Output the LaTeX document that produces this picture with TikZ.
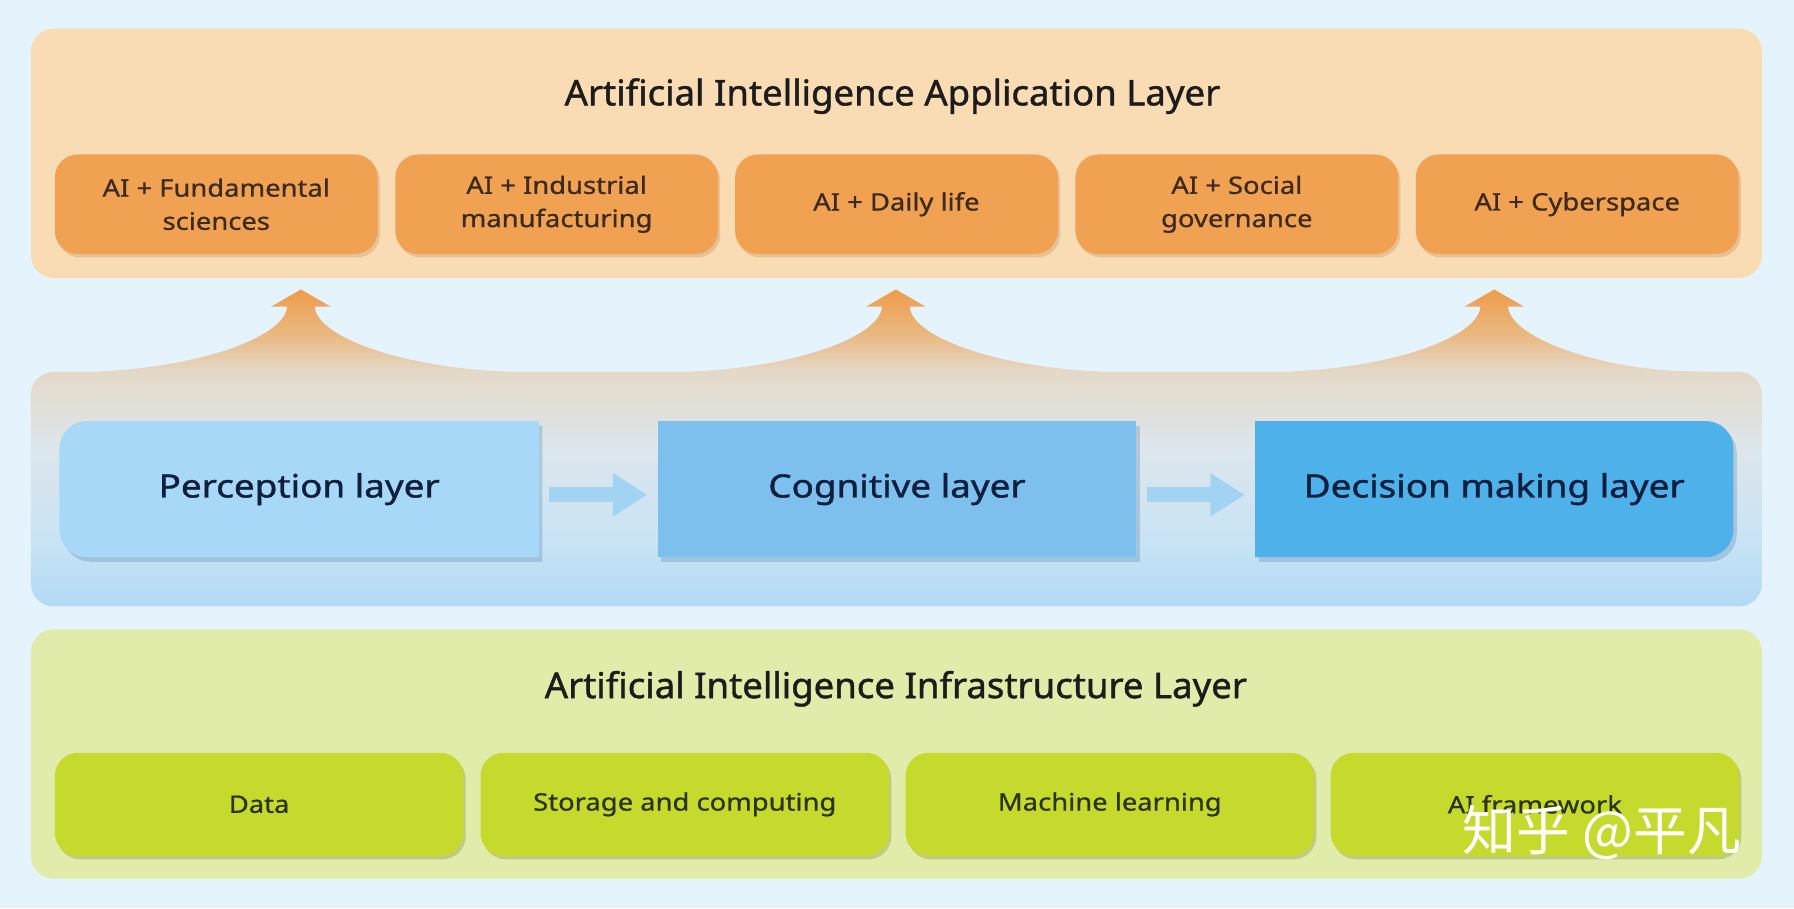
\documentclass[tikz,border=0pt]{standalone}
\usepackage{fontspec}
\setmainfont[FakeStretch=1.14, FakeBold=0.8]{Noto Sans}
\newfontfamily\titlefont[FakeStretch=1.03, FakeBold=1.2]{Noto Sans}
\newfontfamily\bluefont[FakeStretch=1.15, FakeBold=1.2]{Noto Sans}
\newfontfamily\cjkfont{Noto Sans CJK SC}
\usetikzlibrary{shadows,arrows.meta}
\definecolor{bg}{HTML}{E5F3FC}
\definecolor{apppanel}{HTML}{F9DBB4}
\definecolor{oboxc}{HTML}{F0A152}
\definecolor{oshadow}{HTML}{A86420}
\definecolor{otext}{HTML}{3B2A1E}
\definecolor{ttext}{HTML}{1C1C1C}
\definecolor{percc}{HTML}{A7D8F7}
\definecolor{cogc}{HTML}{7DC0EE}
\definecolor{decc}{HTML}{4EB1EA}
\definecolor{bshadow}{HTML}{3A6F9A}
\definecolor{btext}{HTML}{0F1F3D}
\definecolor{flowc}{HTML}{A3D3F3}
\definecolor{infpanel}{HTML}{E1EBAA}
\definecolor{gboxc}{HTML}{C6DA2E}
\definecolor{gshadow}{HTML}{6F7A10}
\definecolor{gtext}{HTML}{2B3312}
\definecolor{pb1}{HTML}{B2DAF5}
\definecolor{pb2}{HTML}{C8E3F5}
\definecolor{pb3}{HTML}{DDE6EC}
\definecolor{pb4}{HTML}{E4D9C8}
\definecolor{pb5}{HTML}{EAB880}
\definecolor{pb6}{HTML}{EE9C4A}
\pgfdeclareverticalshading{midpanel}{100bp}{color(0bp)=(pb1); color(25bp)=(pb1); color(35bp)=(pb2); color(50bp)=(pb3); color(62bp)=(pb4); color(68bp)=(pb5); color(75bp)=(pb6); color(100bp)=(pb6)}
\begin{document}
\begin{tikzpicture}[x=1pt,y=-1pt,
  panelbox/.style={rounded corners=20pt, inner sep=0pt, draw=none},
  title/.style={text=ttext, font=\titlefont\fontsize{31}{36}\selectfont, inner sep=0pt},
  obox/.style={fill=oboxc, rounded corners=20pt, minimum width=282pt, minimum height=87pt, inner sep=0pt, align=center, text=otext, font=\fontsize{21}{29}\selectfont, drop shadow={shadow xshift=2pt, shadow yshift=-3pt, opacity=.22, fill=oshadow}},
  gbox/.style={fill=gboxc, rounded corners=20pt, minimum width=357pt, minimum height=90pt, inner sep=0pt, align=center, text=gtext, font=\fontsize{21}{26}\selectfont, drop shadow={shadow xshift=2pt, shadow yshift=-3pt, opacity=.28, fill=gshadow}},
  blbl/.style={minimum width=418pt, minimum height=119pt, inner sep=0pt, text=btext, font=\bluefont\fontsize{28}{34}\selectfont},
  bshape/.style={drop shadow={shadow xshift=3pt, shadow yshift=-4pt, opacity=.25, fill=bshadow}},
  flow/.style={draw=flowc, line width=13pt, -{Triangle[length=30pt,width=36pt]}, shorten <=9pt, shorten >=9pt}
]
\useasboundingbox (0,0) rectangle (1568,794);
\fill[bg] (0,0) rectangle (1568,794);

% top panel
\node[panelbox, fill=apppanel, minimum width=1513pt, minimum height=218pt] (app) at (783.5,134) {};
\node[title] (apptitle) at (780,84) {Artificial Intelligence Application Layer};
\node[obox] (a1) at (189,178.5) {AI + Fundamental\\sciences};
\node[obox] (a2) at (486.5,178.5) {AI + Industrial\\manufacturing};
\node[obox] (a3) at (783.5,178.5) {AI + Daily life};
\node[obox] (a4) at (1081,178.5) {AI + Social\\governance};
\node[obox] (a5) at (1378.5,178.5) {AI + Cyberspace};

% middle panel with rising arrows
\path[shading=midpanel] (78,325) [rounded corners=20pt] -- (27,325) -- (27,530) -- (1540,530) -- (1540,325) -- (1491,325) [sharp corners]
  .. controls (1396,322) and (1320,295) .. (1318,268) -- (1332,268) -- (1306,253) -- (1280,268) -- (1294,268)
  .. controls (1292,295) and (1216,322) .. (1121,325)
  -- (968,325) .. controls (873,322) and (797,295) .. (795,268) -- (809,268) -- (783,253) -- (757,268) -- (771,268)
  .. controls (769,295) and (693,322) .. (598,325)
  -- (448,325) .. controls (353,322) and (277,295) .. (275,268) -- (289,268) -- (263,253) -- (237,268) -- (251,268)
  .. controls (249,295) and (173,322) .. (78,325) -- cycle;

% layer shapes
\path[bshape, fill=percc] (262,368) [rounded corners=24pt] -- (52,368) -- (52,487) -- (262,487) [sharp corners] -- (471,487) -- (471,368) -- cycle;
\path[bshape, fill=cogc] (575,368) rectangle (993,487);
\path[bshape, fill=decc] (1306,368) [rounded corners=24pt] -- (1515,368) -- (1515,487) -- (1306,487) [sharp corners] -- (1097,487) -- (1097,368) -- cycle;
\node[blbl] (perc) at (261.5,427.5) {Perception layer};
\node[blbl] (cog) at (784,427.5) {Cognitive layer};
\node[blbl] (dec) at (1306,427.5) {Decision making layer};
\draw[flow] ([yshift=-5pt]perc.east) -- ([yshift=-5pt]cog.west);
\draw[flow] ([yshift=-5pt]cog.east) -- ([yshift=-5pt]dec.west);

% bottom panel
\node[panelbox, fill=infpanel, minimum width=1513pt, minimum height=218pt] (inf) at (783.5,659) {};
\node[title] (inftitle) at (783,602) {Artificial Intelligence Infrastructure Layer};
\node[gbox] (g1) at (226.5,703) {Data};
\node[gbox] (g2) at (598.5,703) {Storage and computing};
\node[gbox] (g3) at (970,703) {Machine learning};
\node[gbox] (g4) at (1341.5,703) {AI framework};

% watermark
\node[text=white, font=\cjkfont\fontsize{47}{49}\selectfont, inner sep=0pt] (wm) at (1400,728) {知乎 @平凡};
\end{tikzpicture}
\end{document}
